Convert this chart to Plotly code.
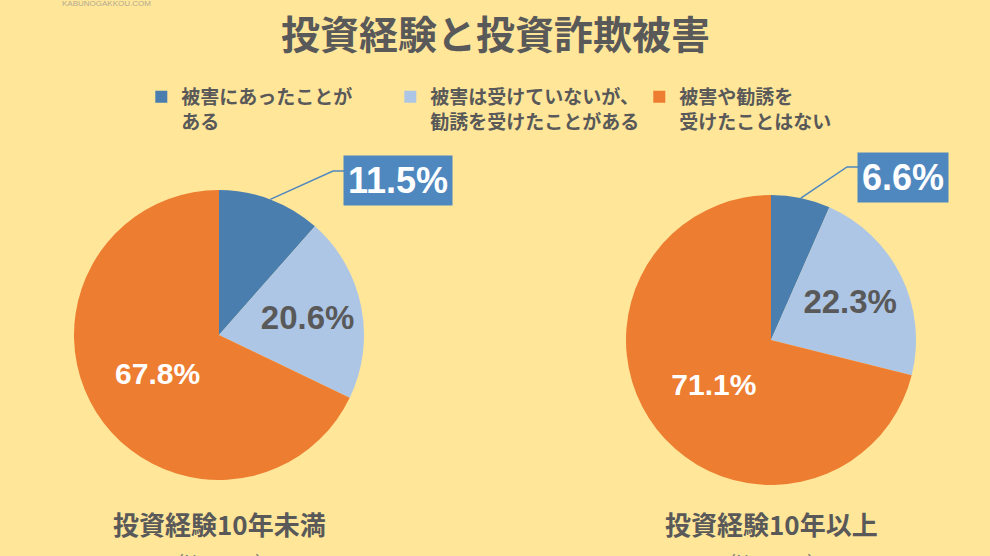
import math
import plotly.graph_objects as go

# data
categories = ["被害にあったことが<br>ある", "被害は受けていないが、<br>勧誘を受けたことがある", "被害や勧誘を<br>受けたことはない"]
under10 = [11.5, 20.6, 67.8]
over10 = [6.6, 22.3, 71.1]
group_titles = ["投資経験10年未満", "投資経験10年以上"]
group_n = ["（N＝1100）", "（N＝1000）"]

W, H = 990, 556
BG = "#FFE699"
GRAY = "#595959"
colors = ["#4A7EAF", "#ADC6E6", "#ED7D31"]
BOX = "#4F88BF"
JP = "Noto Sans CJK JP"
NUM = "Liberation Sans"

# pixel layout of the two pies: (centre x, centre y, radius)
pies = [(219, 335, 145), (771, 340, 145)]
elbows = [(333, 171), (847, 167)]
boxes = [(398, 180), (903, 177)]


def px(x):
    return x / W


def py(y):
    return 1 - y / H


def note(x, y, text, **kw):
    fig.add_annotation(x=px(x), y=py(y), xref="paper", yref="paper",
                       xanchor=kw.pop("xanchor", "center"), yanchor=kw.pop("yanchor", "middle"),
                       text=text, showarrow=False, **kw)


fig = go.Figure()
for i, vals in enumerate([under10, over10]):
    cx, cy, r = pies[i]
    fig.add_trace(go.Pie(
        labels=categories,
        values=vals,
        sort=False,
        direction="clockwise",
        rotation=0,
        marker=dict(colors=colors, line=dict(width=0)),
        texttemplate=["", "%{value:.1f}%", "%{value:.1f}%"],
        textposition="inside",
        insidetextorientation="horizontal",
        textfont=dict(family=NUM, size=[1, 33, 30], color=["white", GRAY, "white"], weight="bold"),
        domain=dict(x=[px(cx - r), px(cx + r)], y=[py(cy + r), py(cy - r)]),
        hoverinfo="label+value",
        showlegend=(i == 0),
    ))

    # leader line for the small slice
    mid = vals[0] / sum(vals) * math.pi
    sx, sy = cx + r * math.sin(mid), cy - r * math.cos(mid)
    ex, ey = elbows[i]
    bx, by = boxes[i]
    fig.add_shape(type="path", xref="paper", yref="paper",
                  path=f"M {px(sx)} {py(sy)} L {px(ex)} {py(ey)} L {px(bx)} {py(ey)}",
                  line=dict(color=BOX, width=1.5))
    note(bx, by, f"{vals[0]:.1f}%", bgcolor=BOX, borderpad=4,
         font=dict(family=NUM, size=36, color="white", weight="bold"))

    note(cx, 523, group_titles[i], font=dict(family=JP, size=26, color=GRAY, weight="bold"))
    note(cx, 546, group_n[i], yanchor="top", font=dict(family=JP, size=18, color="#7F7F7F"))

note(495, 32, "投資経験と投資詐欺被害", font=dict(family=JP, size=39, color=GRAY, weight="bold"))
note(106, 4, "KABUNOGAKKOU.COM", font=dict(family=NUM, size=8, color="#B3AB92"))

fig.update_layout(
    width=W, height=H,
    margin=dict(l=0, r=0, t=0, b=0),
    paper_bgcolor=BG,
    plot_bgcolor=BG,
    legend=dict(orientation="h", x=0.52, xanchor="center", y=py(78), yanchor="top",
                valign="top", bgcolor="rgba(0,0,0,0)", entrywidth=204,
                font=dict(family=JP, size=19, color=GRAY, weight="bold")),
)

fig.write_html("out.html", config={"displayModeBar": False},
               post_script="document.body.style.margin='0';")
